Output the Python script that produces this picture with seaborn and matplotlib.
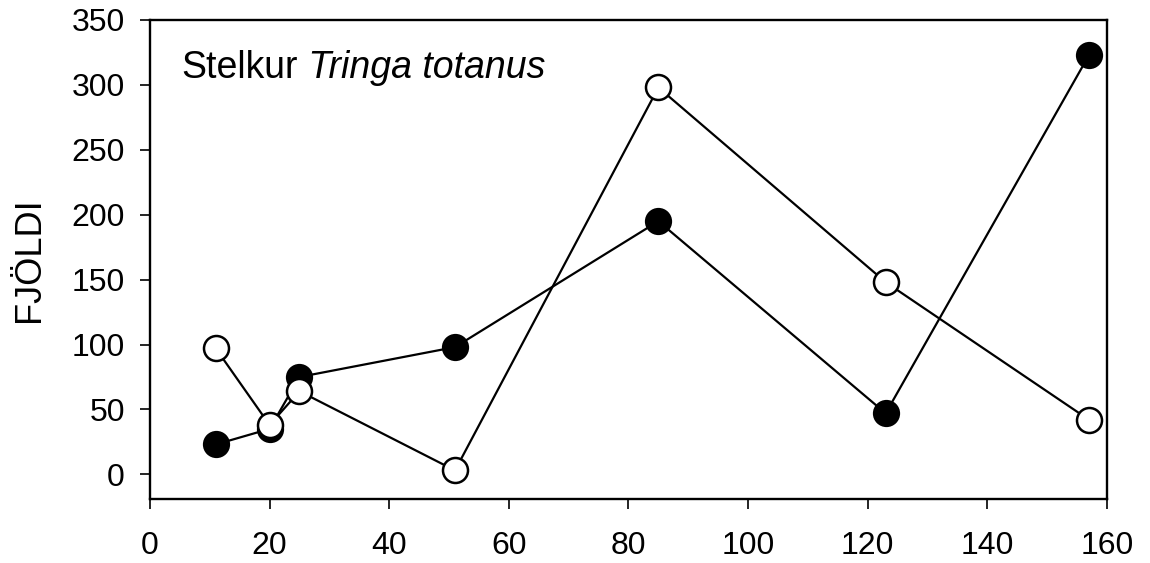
import matplotlib
matplotlib.use("Agg")
import matplotlib.pyplot as plt
import seaborn as sns
import pandas as pd

# Data
x_vals = [11, 20, 25, 51, 85, 123, 157]
filled_vals = [23, 35, 75, 98, 195, 47, 323]
open_vals = [97, 38, 64, 3, 298, 148, 42]
x_ticks = [0, 20, 40, 60, 80, 100, 120, 140, 160]
y_ticks = [0, 50, 100, 150, 200, 250, 300, 350]
title_plain = "Stelkur"
title_italic = "Tringa totanus"
y_label = "FJÖLDI"

sns.set_style("ticks")
plt.rcParams['font.family'] = ['Liberation Sans', 'DejaVu Sans']
plt.rcParams['text.color'] = 'black'
plt.rcParams['axes.labelcolor'] = 'black'

fig = plt.figure(figsize=(11.5, 5.63), dpi=100)
ax = fig.add_axes([0.1304, 0.1137, 0.8322, 0.8508])

df = pd.DataFrame({"x": x_vals, "filled": filled_vals, "open": open_vals})

sns.lineplot(data=df, x="x", y="filled", ax=ax, color="black", linewidth=1.6,
             marker="o", markersize=18, markerfacecolor="black",
             markeredgecolor="black", markeredgewidth=1.6, zorder=2)
sns.lineplot(data=df, x="x", y="open", ax=ax, color="black", linewidth=1.6,
             marker="o", markersize=18, markerfacecolor="white",
             markeredgecolor="black", markeredgewidth=1.8, zorder=3)

ax.set_xlim(0, 160)
ax.set_ylim(-19, 350)
ax.set_xticks(x_ticks)
ax.set_yticks(y_ticks)
ax.tick_params(axis="both", direction="out", length=7, width=1.2,
               labelsize=23, colors="black")
ax.tick_params(axis="x", pad=16)
ax.tick_params(axis="y", pad=11)
for s in ax.spines.values():
    s.set_visible(True)
    s.set_linewidth(1.7)
    s.set_color("black")

ax.set_xlabel("")
ax.set_ylabel(y_label, fontsize=26, labelpad=18)

t1 = ax.text(0.033, 0.879, title_plain, transform=ax.transAxes,
             fontsize=27, va="baseline", ha="left")
ax.annotate(" " + title_italic, xy=(1, 0), xycoords=t1, fontsize=27,
            style="italic", va="bottom", ha="left")

fig.savefig("out.png", dpi=100)
